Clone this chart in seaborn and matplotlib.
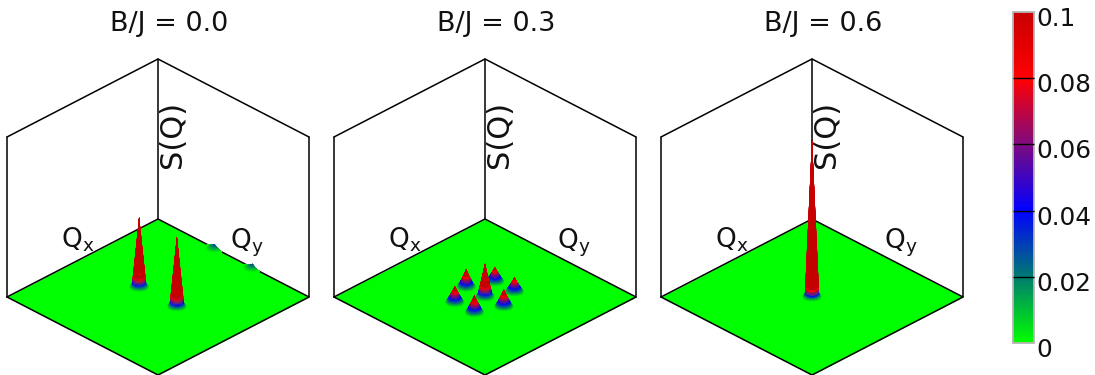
import numpy as np
import matplotlib
matplotlib.use("Agg")
import matplotlib.pyplot as plt
from matplotlib.cm import ScalarMappable
from matplotlib.colors import Normalize
from matplotlib.transforms import ScaledTranslation
from mpl_toolkits.mplot3d import proj3d
import seaborn as sns

# ---- data ----
titles = ["B/J = 0.0", "B/J = 0.3", "B/J = 0.6"]

peaks_qx_0 = [0.0, 0.0, -1.0, -1.0]
peaks_qy_0 = [-0.25, 0.25, -0.25, 0.25]
peaks_s_0 = [0.52, 0.52, 0.028, 0.028]

peaks_qx_3 = [-0.26, 0.0, -0.26, 0.27, 0.0, 0.27, 0.0]
peaks_qy_3 = [-0.13, -0.25, 0.13, -0.13, 0.25, 0.13, 0.0]
peaks_s_3 = [0.107, 0.133, 0.107, 0.12, 0.127, 0.127, 0.247]

peaks_qx_6 = [0.0]
peaks_qy_6 = [0.0]
peaks_s_6 = [1.17]

colorbar_ticks = [0, 0.02, 0.04, 0.06, 0.08, 0.1]
colorbar_labels = ["0", "0.02", "0.04", "0.06", "0.08", "0.1"]
colorbar_colors = ["#00ff00", "#007a70", "#0000ff", "#7d0a80", "#ff0000", "#c80000"]

q_min, q_max = -1.0, 1.0
s_max = 1.2

# ---- style ----
sns.set_theme(style="white")
plt.rcParams["font.family"] = ["DejaVu Sans"]
plt.rcParams["mathtext.default"] = "regular"
cmap = sns.blend_palette(colorbar_colors, n_colors=256, as_cmap=True)
norm = Normalize(colorbar_ticks[0], colorbar_ticks[-1])

FW, FH = 1095, 375
fig = plt.figure(figsize=(FW / 100, FH / 100), dpi=100, facecolor="white")

PX_TO_Q = 1 / 106.8          # one screen pixel across the floor diagonal in Q units


def draw_peak(ax, qx, qy, s):
    r = np.linspace(0, 10.5, 80)
    th = np.linspace(0, 2 * np.pi, 41)
    R, T = np.meshgrid(r, th)
    base = min(s, 0.12)
    Z = (s - base) * np.clip(1 - R / 7.0, 0, None) + base * np.clip(1 - R / 9.5, 0, None) ** 1.2
    X = np.clip(qx + R * PX_TO_Q * np.cos(T), q_min, q_max)
    Y = np.clip(qy + R * PX_TO_Q * np.sin(T), q_min, q_max)
    ax.plot_surface(X, Y, Z, rstride=1, cstride=1, facecolors=cmap(norm(Z)), shade=False,
                    linewidth=0.12, antialiased=True, zorder=10 + qx + qy)


def px(ax, x, y, z):
    a, b, _ = proj3d.proj_transform(x, y, z, ax.get_proj())
    return ax.transData.transform((a, b))


def fit(ax, cx, cy, size=326):
    """Scale the 3D box so that the floor and walls take the wanted pixel size."""
    def place(x0, y0):
        ax.set_position([x0 / FW, y0 / FH, size / FW, size / FH])
        ax.apply_aspect()
    place(cx - size / 2, cy - size / 2)
    c, zoom = 0.75, 1.0
    for _ in range(5):
        ax.set_box_aspect((1, 1, c), zoom=zoom)
        L = px(ax, q_max, q_min, 0)
        Rr = px(ax, q_min, q_max, 0)
        B = px(ax, q_min, q_min, 0)
        T = px(ax, q_min, q_min, s_max)
        w, h = Rr[0] - L[0], T[1] - B[1]
        zoom *= 302 / w
        c *= (160 / h) / (302 / w)
    ax.set_box_aspect((1, 1, c), zoom=zoom)
    B = px(ax, q_min, q_min, 0)
    place(cx - size / 2 + (cx - B[0]), cy - size / 2 + (cy - B[1]))


panels = [
    (peaks_qx_0, peaks_qy_0, peaks_s_0),
    (peaks_qx_3, peaks_qy_3, peaks_s_3),
    (peaks_qx_6, peaks_qy_6, peaks_s_6),
]

for k, (title, (qxs, qys, ss)) in enumerate(zip(titles, panels)):
    ax = fig.add_subplot(projection="3d", computed_zorder=False, proj_type="ortho")
    ax.view_init(elev=31.1, azim=45)
    ax.set_xlim(q_min, q_max)
    ax.set_ylim(q_min, q_max)
    ax.set_zlim(0, s_max)
    ax.set_xticks([])
    ax.set_yticks([])
    ax.set_zticks([])
    for axis in (ax.xaxis, ax.yaxis, ax.zaxis):
        axis.label.set_visible(False)
        axis.offsetText.set_visible(False)
    ax.set_axis_off()
    ax.patch.set_alpha(0)

    gx, gy = np.meshgrid([q_min, q_max], [q_min, q_max])
    ax.plot_surface(gx, gy, np.zeros_like(gx), color="#00ff00", shade=False, linewidth=0, zorder=1)

    line = dict(color="black", lw=1.1, solid_capstyle="round")
    # walls
    ax.plot([q_max, q_max], [q_min, q_min], [0, s_max], zorder=2, **line)
    ax.plot([q_min, q_min], [q_min, q_min], [0, s_max], zorder=2, **line)
    ax.plot([q_min, q_min], [q_max, q_max], [0, s_max], zorder=2, **line)
    ax.plot([q_max, q_min, q_min], [q_min, q_min, q_max], [s_max] * 3, zorder=2, **line)
    # floor outline
    ax.plot([q_max, q_min, q_min, q_max, q_max], [q_min, q_min, q_max, q_max, q_min], [0] * 5,
            zorder=3, **line)

    for qx, qy, s in sorted(zip(qxs, qys, ss), key=lambda p: p[0] + p[1]):
        draw_peak(ax, qx, qy, s)

    ax.text(0.07, q_min, 0.157, r"Q$_{x}$", fontsize=19, ha="center", va="center", color="#111111", zorder=30)
    ax.text(q_min, 0.18, 0.167, r"Q$_{y}$", fontsize=19, ha="center", va="center", color="#111111", zorder=30)

    fit(ax, 158 + 327 * k, FH - 219)
    fig.text((172.5 + 327 * k) / FW, 1 - 134 / FH, "S(Q)", fontsize=22, rotation=90, ha="center", va="center",
             color="#111111")
    fig.text((169 + 327 * k) / FW, 1 - 24 / FH, title, fontsize=19.5, ha="center", va="center", color="#111111")

# ---- colour bar ----
cax = fig.add_axes([1013 / FW, 1 - 343 / FH, 21 / FW, 331 / FH])
cb = fig.colorbar(ScalarMappable(norm=norm, cmap=cmap), cax=cax, ticks=colorbar_ticks)
cb.ax.set_axisbelow(False)
cb.ax.set_yticklabels(colorbar_labels)
cb.ax.tick_params(axis="y", direction="in", length=15.1, width=1, color="black",
                  labelsize=17.8, pad=2, labelcolor="#111111", right=True, left=False)
cb.outline.set_edgecolor("#b5b5b5")
cb.outline.set_linewidth(1.3)
major_ticks = cb.ax.yaxis.get_major_ticks()
major_ticks[0].tick2line.set_visible(False)
major_ticks[-1].tick2line.set_visible(False)
shift = ScaledTranslation(0, -4.5 / 100, fig.dpi_scale_trans)
for lab in cb.ax.get_yticklabels():
    lab.set_transform(lab.get_transform() + shift)

fig.savefig("out.png", dpi=100, facecolor="white")
